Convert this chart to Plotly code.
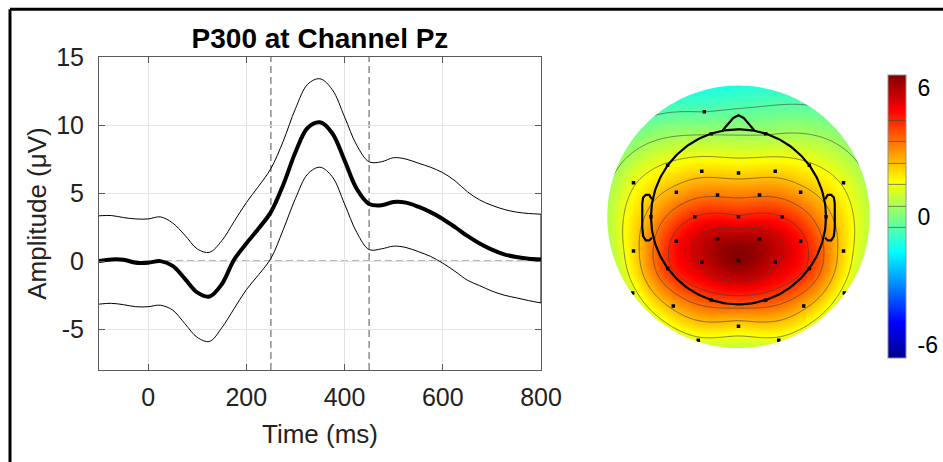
import numpy as np
import plotly.graph_objects as go

# ---------------- data: ERP at Pz ----------------
time_ms = [-100, -75, -50, -25, 0, 25, 50, 75, 100, 125, 150, 175, 200, 225, 250, 275, 300,
           325, 350, 375, 400, 425, 450, 475, 500, 525, 550, 575, 600, 625, 650, 675, 700,
           725, 750, 775, 800]
erp_mean = [0.0, 0.12, 0.1, -0.12, -0.12, 0.0, -0.35, -1.3, -2.3, -2.6, -1.7, 0.1, 1.3, 2.4,
            3.6, 5.6, 8.0, 9.8, 10.2, 9.4, 7.4, 5.3, 4.2, 4.1, 4.35, 4.3, 4.0, 3.6, 3.1, 2.5,
            1.85, 1.3, 0.85, 0.5, 0.3, 0.17, 0.12]
erp_upper = [3.33, 3.35, 3.2, 3.1, 3.1, 3.25, 2.8, 1.9, 0.9, 0.65, 1.5, 2.9, 4.3, 5.5, 6.8,
             8.8, 11.2, 13.0, 13.4, 12.6, 10.6, 8.5, 7.3, 7.3, 7.6, 7.5, 7.2, 6.9, 6.5, 5.9,
             5.1, 4.5, 4.1, 3.8, 3.6, 3.5, 3.45]
erp_lower = [-3.16, -3.1, -3.2, -3.35, -3.35, -3.24, -3.6, -4.6, -5.6, -5.9, -4.9, -3.5, -2.1,
             -1.0, 0.2, 2.3, 4.6, 6.4, 6.9, 6.2, 4.2, 2.1, 0.85, 0.9, 1.1, 1.0, 0.7, 0.35,
             -0.15, -0.75, -1.4, -1.8, -2.2, -2.5, -2.7, -2.9, -3.07]
window_ms = [250, 450]
x_ticks = [0, 200, 400, 600, 800]
y_ticks = [-5, 0, 5, 10, 15]
y_ticklabels = ["-5", "0", "5", "10", "15"]

# ---------------- data: topography (head radius = 1) ----------------
elec_x = [-0.39, -0.31, 0.31, -1.20, 1.20, -0.81, 0.81, -0.42, 0.0, 0.42, -0.71, -0.24, 0.24,
          0.71, -1.0, -0.5, 0.0, 0.5, 1.0, -0.71, -0.24, 0.24, 0.71, -1.20, 1.20, -0.42, 0.0,
          0.42, -0.81, 0.81, -0.31, 0.31, -0.745, 0.745, 0.0, -1.21, 1.21, -0.46, 0.46]
elec_y = [1.20, 0.95, 0.95, 0.39, 0.39, 0.59, 0.59, 0.52, 0.50, 0.52, 0.28, 0.25, 0.25, 0.28,
          0.0, 0.0, 0.0, 0.0, 0.0, -0.28, -0.25, -0.25, -0.28, -0.39, -0.39, -0.52, -0.50,
          -0.52, -0.59, -0.59, -0.95, -0.95, -1.02, -1.02, -1.25, -0.87, -0.87, -1.41, -1.41]
elec_v = [-0.5, 0.45, 0.45, 1.4, 1.4, 1.6, 1.6, 2.2, 2.2, 2.2, 2.8, 3.4, 3.4, 2.8, 2.8, 4.5,
          4.6, 4.5, 2.8, 4.8, 6.0, 6.0, 4.8, 2.1, 2.1, 5.6, 6.5, 5.6, 4.3, 4.3, 4.0, 4.0, 2.7,
          2.7, 2.1, 1.2, 1.2, 1.3, 1.3]
clim = 6.6
cbar_ticks = [-6, 0, 6]
cbar_labels = ["-6", "0", "6"]

# ---------------- biharmonic spline interpolation (MATLAB 'v4') ----------------
px = np.array(elec_x)
py = np.array(elec_y)
pv = np.array(elec_v)


def green(d):
    with np.errstate(divide="ignore", invalid="ignore"):
        g = d ** 2 * (np.log(d) - 1.0)
    g[d == 0] = 0.0
    return g


D = np.hypot(px[:, None] - px[None, :], py[:, None] - py[None, :])
w = np.linalg.solve(green(D), pv)
grid = np.linspace(-1.54, 1.54, 175)
GX, GY = np.meshgrid(grid, grid)
Dg = np.hypot(GX[..., None] - px, GY[..., None] - py)
Z = (green(Dg) * w).sum(axis=-1)

jet = [[0.0, "rgb(0,0,143)"], [0.125, "rgb(0,0,255)"], [0.375, "rgb(0,255,255)"],
       [0.5, "rgb(128,255,128)"], [0.625, "rgb(255,255,0)"], [0.875, "rgb(255,0,0)"],
       [1.0, "rgb(128,0,0)"]]

W, H = 943, 462
FONT = "Liberation Sans, Arial, Helvetica, sans-serif"
fig = go.Figure()

# ---------- ERP panel ----------
fig.add_trace(go.Scatter(x=time_ms, y=erp_upper, mode="lines", line=dict(color="black", width=1, shape="spline"),
                         showlegend=False, hoverinfo="skip"))
fig.add_trace(go.Scatter(x=time_ms, y=erp_lower, mode="lines", line=dict(color="black", width=1, shape="spline"),
                         showlegend=False, hoverinfo="skip"))
fig.add_trace(go.Scatter(x=[time_ms[-1], time_ms[-1]], y=[erp_upper[-1], erp_lower[-1]], mode="lines",
                         line=dict(color="black", width=1), showlegend=False, hoverinfo="skip"))
fig.add_trace(go.Scatter(x=time_ms, y=erp_mean, mode="lines", line=dict(color="black", width=4, shape="spline"),
                         showlegend=False, name="Pz"))

for t in window_ms:
    fig.add_shape(type="line", xref="x", yref="y domain", x0=t, x1=t, y0=0, y1=1,
                  line=dict(color="#6e6e6e", width=1.2, dash="7px,4px"), layer="below")
fig.add_shape(type="line", xref="x domain", yref="y", x0=0, x1=1, y0=0, y1=0,
              line=dict(color="#6e6e6e", width=1.2, dash="7px,4px"), layer="below")

# ---------- Topography ----------
fig.add_trace(go.Contour(
    x=grid, y=grid, z=Z, xaxis="x2", yaxis="y2", colorscale=jet, zmin=-clim, zmax=clim,
    contours=dict(start=-0.5, end=5.5, size=1.0, coloring="heatmap", showlines=True),
    line=dict(color="rgba(60,60,60,0.75)", width=0.8, smoothing=1),
    colorbar=dict(x=888 / W, xanchor="left", xpad=0, y=1 - 216.5 / H, yanchor="middle",
                  len=303, lenmode="pixels", ypad=10, thickness=18, thicknessmode="pixels",
                  tickvals=cbar_ticks, ticktext=cbar_labels,
                  ticks="outside", ticklen=7, tickcolor="rgba(0,0,0,0)",
                  tickfont=dict(size=23, family=FONT, color="black"),
                  outlinewidth=1, outlinecolor="#909090"),
    hoverinfo="skip"))

# mask outside the disc
R = 1.5
a = 1.7
ang = np.linspace(0, -2 * np.pi, 181)
circ = " ".join(f"L{R*np.cos(t):.4f},{R*np.sin(t):.4f}" for t in ang[1:])
path = f"M{-a},{-a} L{a},{-a} L{a},{a} L{-a},{a} Z M{R:.4f},0 {circ} Z"
fig.add_shape(type="path", xref="x2", yref="y2", path=path, fillcolor="white",
              line=dict(width=0), layer="above")

# head outline, nose, ears
th = np.linspace(0, 2 * np.pi, 200)
head_x = np.cos(th)
head_y = np.sin(th)
nose_x = [-0.18, -0.06, 0.0, 0.06, 0.18]
nose_y = [0.99, 1.13, 1.16, 1.13, 0.99]
ear_x = [0.99, 1.02, 1.06, 1.09, 1.10, 1.10, 1.09, 1.06, 1.02, 0.99]
ear_y = [0.20, 0.25, 0.25, 0.22, 0.15, -0.12, -0.22, -0.27, -0.27, -0.24]
outline = dict(color="black", width=2.2)
for xs, ys in [(head_x, head_y), (nose_x, nose_y), (ear_x, ear_y), ([-v for v in ear_x], ear_y)]:
    fig.add_trace(go.Scatter(x=xs, y=ys, xaxis="x2", yaxis="y2", mode="lines", line=outline,
                             showlegend=False, hoverinfo="skip"))
fig.add_trace(go.Scatter(x=elec_x, y=elec_y, xaxis="x2", yaxis="y2", mode="markers",
                         marker=dict(symbol="square", size=3.5, color="black"),
                         showlegend=False, hovertext=[f"{v:.1f}" for v in elec_v]))

# ---------- layout ----------
axis_common = dict(showline=True, linecolor="#5a5a5a", linewidth=1, mirror="ticks", ticks="inside",
                   ticklen=6, tickcolor="#5a5a5a", showgrid=True, gridcolor="#e3e3e3", gridwidth=1,
                   zeroline=False, automargin=False, tickfont=dict(size=25, family=FONT, color="#222"))
fig.update_layout(
    template="none",
    width=W, height=H, margin=dict(l=0, r=0, t=0, b=0, autoexpand=False),
    paper_bgcolor="white", plot_bgcolor="white",
    font=dict(family=FONT, color="#222"),
    title=dict(text="<b>P300 at Channel Pz</b>", xref="paper", yref="paper", x=320 / W, xanchor="center",
               y=1 - 38 / H, yanchor="middle", automargin=False,
               font=dict(size=28, family=FONT, color="black")),
    xaxis=dict(domain=[99 / W, 541 / W], range=[-100, 800], tickvals=x_ticks,
               ticklabelstandoff=5,
               title=dict(text="Time (ms)", font=dict(size=26, family=FONT, color="#222"), standoff=14),
               **axis_common),
    yaxis=dict(domain=[1 - 370 / H, 1 - 57 / H], range=[-8, 15], tickvals=y_ticks, ticktext=y_ticklabels,
               ticklabelstandoff=9,
               title=dict(text="Amplitude (μV)", font=dict(size=26, family=FONT, color="#222"), standoff=2),
               **axis_common),
    xaxis2=dict(domain=[(738.5 - 140) / W, (738.5 + 140) / W], range=[-1.6, 1.6], visible=False,
                automargin=False),
    yaxis2=dict(domain=[1 - (216.8 + 140) / H, 1 - (216.8 - 140) / H], range=[-1.6, 1.6], visible=False,
                automargin=False),
)

# outer frame (top and left edges)
fig.add_shape(type="line", xref="paper", yref="paper", x0=10 / W, x1=1.01, y0=1 - 9.3 / H, y1=1 - 9.3 / H,
              line=dict(color="black", width=3))
fig.add_shape(type="line", xref="paper", yref="paper", x0=10 / W, x1=10 / W, y0=-0.01, y1=1 - 9.3 / H,
              line=dict(color="black", width=3))

fig.write_html("out.html", post_script="document.body.style.margin='0';",
               config={"displayModeBar": False})
